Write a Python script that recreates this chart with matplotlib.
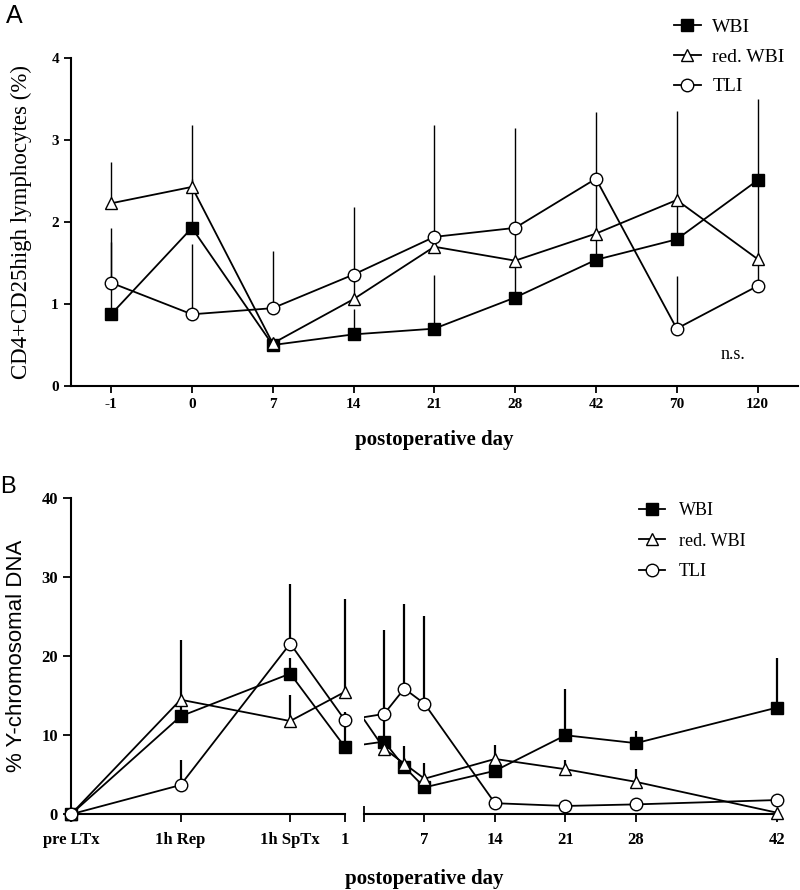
import numpy as np
import matplotlib
matplotlib.use('Agg')
import matplotlib.pyplot as plt
from matplotlib.lines import Line2D

# ---- panel A data ----
days_a = ['-1', '0', '7', '14', '21', '28', '42', '70', '120']
wbi_a = [0.875, 1.93, 0.50, 0.63, 0.70, 1.08, 1.54, 1.79, 2.51]
wbi_a_err = [1.05, 0.60, 0.0, 0.31, 0.66, 0.45, 0.30, 0.45, 0.99]
red_a = [2.23, 2.43, 0.52, 1.06, 1.70, 1.53, 1.86, 2.27, 1.55]
red_a_err = [0.51, 0.76, 0.0, 0.30, 0.10, 0.40, 0.60, 1.09, 0.90]
tli_a = [1.26, 0.875, 0.95, 1.36, 1.82, 1.93, 2.53, 0.70, 1.22]
tli_a_err = [0.50, 0.86, 0.70, 0.82, 1.37, 1.22, 0.82, 0.64, 0.30]

# ---- panel B data ----
early_labels = ['pre LTx', '1h Rep', '1h SpTx', '1']
late_days = [3, 5, 7, 14, 21, 28, 42]
late_ticks = [7, 14, 21, 28, 42]
wbi_b = [0.0, 12.4, 17.8, 8.5, 9.2, 6.0, 3.4, 5.5, 10.0, 9.0, 13.5]
wbi_b_err = [0.0, 1.5, 2.0, 2.5, 3.0, 0.0, 0.0, 0.0, 5.8, 1.5, 6.3]
red_b = [0.0, 14.5, 11.8, 15.5, 8.3, 6.4, 4.5, 7.0, 5.7, 4.1, 0.2]
red_b_err = [0.0, 7.5, 3.3, 11.8, 0.0, 2.2, 2.0, 1.8, 1.2, 1.6, 0.0]
tli_b = [0.0, 3.7, 21.6, 11.9, 12.7, 15.9, 14.0, 1.4, 1.05, 1.25, 1.8]
tli_b_err = [0.0, 3.2, 7.6, 1.0, 10.6, 10.7, 11.1, 0.0, 0.0, 0.0, 0.0]

serif = 'Liberation Serif'
sans = 'Liberation Sans'

fig = plt.figure(figsize=(8, 8.9), dpi=100)

styles = [('WBI', 's', 'black', 8),
          ('red. WBI', '^', 'white', 9),
          ('TLI', 'o', 'white', 9)]

# ================= panel A =================
ax = fig.add_axes([0.0884, 0.5663, 0.909, 0.3682])
x = np.arange(len(days_a))
series_a = [(wbi_a, wbi_a_err), (red_a, red_a_err), (tli_a, tli_a_err)]
for (name, mk, fc, ms), (vals, err) in zip(styles, series_a):
    ax.errorbar(x, vals, yerr=[np.zeros(len(err)), err], fmt='none',
                ecolor='black', elinewidth=1.0, capsize=0, zorder=1)
    ax.plot(x, vals, color='black', lw=1.3, marker=mk, markersize=ms,
            markerfacecolor=fc, markeredgecolor='black', markeredgewidth=1.0,
            label=name, zorder=3)

ax.set_xlim(-0.5, 8.5)
ax.set_ylim(0, 4)
ax.set_xticks(x)
ax.set_xticklabels(days_a)
ax.set_yticks([0, 1, 2, 3, 4])
for s in ['top', 'right']:
    ax.spines[s].set_visible(False)
ax.spines['left'].set_linewidth(1.5)
ax.spines['bottom'].set_linewidth(1.5)
ax.tick_params(direction='out', length=5, width=1.3)
for lab in ax.get_xticklabels() + ax.get_yticklabels():
    lab.set_family(serif)
    lab.set_fontweight('bold')
    lab.set_fontsize(11)
ax.set_xlabel('postoperative day', family=serif, fontweight='bold', fontsize=15, labelpad=14)
ax.set_ylabel('CD4+CD25high lymphocytes (%)', family=serif, fontsize=16.5, labelpad=14)
ax.text(7.7, 0.38, 'n.s.', family=serif, fontsize=13, ha='center', va='center')
ax.legend(loc='upper left', bbox_to_anchor=(0.82, 0.999), bbox_transform=fig.transFigure,
          frameon=False, prop={'family': serif, 'size': 14}, handlelength=1.4,
          handletextpad=0.6, labelspacing=0.62)
fig.text(0.008, 0.996, 'A', family=sans, fontsize=18, va='top')

# ================= panel B =================
# positions: early time points on a category scale, late days on a linear day scale
early_pos = [0, 1, 2, 2.5]
start_pos = 2.6734
per_day = 0.09191
late_pos = [start_pos + (d - 1) * per_day for d in late_days]
pos_b = np.array(early_pos + late_pos)
n_early = len(early_pos)

axl = fig.add_axes([0.08875, 0.0851, 0.3425, 0.3551])
axr = fig.add_axes([0.455, 0.0851, 0.51625, 0.3551])
series_b = [(wbi_b, wbi_b_err), (red_b, red_b_err), (tli_b, tli_b_err)]

for a, sl in [(axl, slice(0, n_early)), (axr, slice(n_early, None))]:
    for (name, mk, fc, ms), (vals, err) in zip(styles, series_b):
        vals = np.array(vals)
        err = np.array(err)
        a.plot(pos_b, vals, color='black', lw=1.3, zorder=2)
        a.errorbar(pos_b[sl], vals[sl], yerr=[np.zeros(len(err[sl])), err[sl]], fmt='none',
                   ecolor='black', elinewidth=1.6, capsize=0, zorder=1, clip_on=False)
        a.plot(pos_b[sl], vals[sl], ls='none', marker=mk, markersize=ms,
               markerfacecolor=fc, markeredgecolor='black', markeredgewidth=1.0,
               zorder=3, clip_on=False)
    a.set_ylim(0, 40)
    for s in ['top', 'right']:
        a.spines[s].set_visible(False)
    a.spines['bottom'].set_linewidth(1.5)
    a.spines['left'].set_linewidth(1.5)
    a.tick_params(direction='out', length=6, width=1.3)

axl.set_xlim(0, 2.5)
axl.set_xticks(early_pos)
axl.set_xticklabels(early_labels)
axl.set_xticks([2.5], minor=True)
axl.tick_params(which='minor', direction='inout', length=12, width=1.3)
axl.set_yticks([0, 10, 20, 30, 40])
axl.tick_params(axis='x', pad=7)

axr.set_xlim(start_pos, late_pos[-1])
axr.set_xticks([start_pos + (d - 1) * per_day for d in late_ticks])
axr.set_xticklabels([str(d) for d in late_ticks])
axr.set_xticks([start_pos], minor=True)
axr.tick_params(which='minor', direction='inout', length=12, width=1.3)
axr.tick_params(axis='x', pad=7)
axr.spines['left'].set_visible(False)
axr.set_yticks([])

for a in [axl, axr]:
    for lab in a.get_xticklabels() + a.get_yticklabels():
        lab.set_family(serif)
        lab.set_fontweight('bold')
        lab.set_fontsize(12)

axl.set_ylabel('% Y-chromosomal DNA', family=sans, fontsize=16, labelpad=10)
fig.text(0.53, 0.001, 'postoperative day', family=serif, fontweight='bold', fontsize=15,
         ha='center', va='bottom')
handles = [Line2D([], [], color='black', lw=1.3, marker=mk, markersize=ms,
                  markerfacecolor=fc, markeredgecolor='black', markeredgewidth=1.0)
           for name, mk, fc, ms in styles]
axr.legend(handles, [s[0] for s in styles], loc='upper left', bbox_to_anchor=(0.779, 0.454),
           bbox_transform=fig.transFigure, frameon=False, prop={'family': serif, 'size': 13},
           handlelength=1.4, handletextpad=0.8, labelspacing=0.75)
fig.text(0.0, 0.465, 'B', family=sans, fontsize=17, va='top')

fig.savefig('out.png', dpi=100)
